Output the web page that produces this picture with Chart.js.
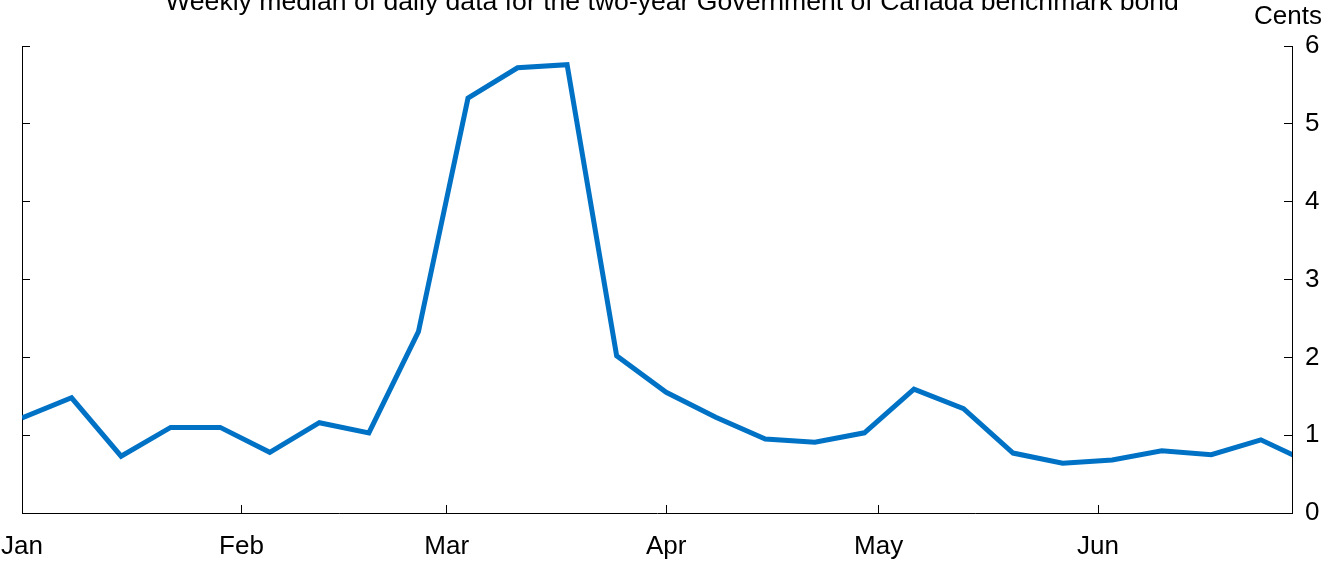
<!DOCTYPE html>
<html>
<head>
<meta charset="utf-8">
<script src="https://cdn.jsdelivr.net/npm/chart.js@4.4.0/dist/chart.umd.min.js"></script>
<style>
  html, body { margin: 0; padding: 0; background: #fff; }
  #wrap { width: 1329px; height: 561px; }
</style>
</head>
<body>
<div id="wrap"><canvas id="chart"></canvas></div>
<script>
// weekly observation dates (2020)
const weekDates = [
  "2020-01-01", "2020-01-08", "2020-01-15", "2020-01-22", "2020-01-29",
  "2020-02-05", "2020-02-12", "2020-02-19", "2020-02-26",
  "2020-03-04", "2020-03-11", "2020-03-18", "2020-03-25",
  "2020-04-01", "2020-04-08", "2020-04-15", "2020-04-22", "2020-04-29",
  "2020-05-06", "2020-05-13", "2020-05-20", "2020-05-27",
  "2020-06-03", "2020-06-10", "2020-06-17", "2020-06-24", "2020-07-01"
];
// bid-ask spread, cents
const spreadCents = [
  1.22, 1.48, 0.73, 1.10, 1.10, 0.78, 1.16, 1.03, 2.33,
  5.33, 5.72, 5.76, 2.02,
  1.55, 1.23, 0.95, 0.91, 1.03,
  1.59, 1.34, 0.77, 0.64,
  0.68, 0.80, 0.75, 0.94, 0.64
];
const monthLabels = ["Jan", "Feb", "Mar", "Apr", "May", "Jun"];
const monthDates = ["2020-01-01", "2020-02-01", "2020-03-01", "2020-04-01", "2020-05-01", "2020-06-01"];
const yTicks = [0, 1, 2, 3, 4, 5, 6];

const titleText = "Weekly median of daily data for the two-year Government of Canada benchmark bond";
const unitText = "Cents";

// days since Jan 1
function dayNum(s) {
  const p = s.split("-").map(Number);
  return (Date.UTC(p[0], p[1] - 1, p[2]) - Date.UTC(2020, 0, 1)) / 86400000;
}

const points = weekDates.map((d, i) => ({ x: dayNum(d), y: spreadCents[i] }));
const monthDays = monthDates.map(dayNum);

const FONT = "'Liberation Sans', Arial, sans-serif";

const textPlugin = {
  id: "headTexts",
  afterDraw(chart) {
    const ctx = chart.ctx;
    ctx.save();
    ctx.fillStyle = "#000";
    ctx.textBaseline = "alphabetic";
    ctx.font = "26.6px " + FONT;
    ctx.textAlign = "center";
    ctx.fillText(titleText, 672, 10);
    ctx.font = "26px " + FONT;
    ctx.textAlign = "right";
    ctx.fillText(unitText, 1322, 24);
    ctx.restore();
  }
};

new Chart(document.getElementById("chart"), {
  type: "line",
  data: {
    datasets: [{
      data: points,
      borderColor: "#0072c6",
      borderWidth: 5,
      borderJoinStyle: "miter",
      pointRadius: 0,
      tension: 0,
      fill: false,
      clip: 0
    }]
  },
  options: {
    responsive: true,
    maintainAspectRatio: false,
    animation: false,
    layout: { padding: { top: 46, left: 0, right: 0, bottom: 0 } },
    plugins: {
      legend: { display: false },
      title: { display: false },
      tooltip: { enabled: false }
    },
    scales: {
      x: {
        type: "linear",
        min: 0,
        max: 179.4,
        afterBuildTicks: (axis) => { axis.ticks = monthDays.map(v => ({ value: v })); },
        afterFit: (axis) => { axis.height = 48; axis.paddingLeft = 0; axis.paddingRight = 0; },
        grid: { drawOnChartArea: false, tickLength: -8, color: "#000", tickWidth: 1 },
        border: { display: true, color: "#000", width: 1 },
        ticks: {
          color: "#000",
          font: { family: FONT, size: 26 },
          padding: 26,
          maxRotation: 0,
          autoSkip: false,
          callback: (v) => { const i = monthDays.indexOf(v); return i >= 0 ? monthLabels[i] : ""; }
        }
      },
      y: {
        position: "left",
        min: 0,
        max: 6,
        afterBuildTicks: (axis) => { axis.ticks = yTicks.map(v => ({ value: v })); },
        afterFit: (axis) => { axis.width = 22; axis.paddingTop = 0; axis.paddingBottom = 0; },
        grid: { drawOnChartArea: false, tickLength: -8, color: "#000" },
        border: { display: true, color: "#000", width: 1 },
        ticks: { callback: () => "", padding: 0 }
      },
      y2: {
        position: "right",
        min: 0,
        max: 6,
        afterBuildTicks: (axis) => { axis.ticks = yTicks.map(v => ({ value: v })); },
        afterFit: (axis) => { axis.width = 37; axis.paddingTop = 0; axis.paddingBottom = 0; },
        grid: { drawOnChartArea: false, tickLength: -8, color: "#000" },
        border: { display: true, color: "#000", width: 1 },
        ticks: {
          color: "#000",
          font: { family: FONT, size: 26 },
          padding: 21,
          callback: (v) => String(v)
        }
      }
    }
  },
  plugins: [textPlugin]
});
</script>
</body>
</html>
